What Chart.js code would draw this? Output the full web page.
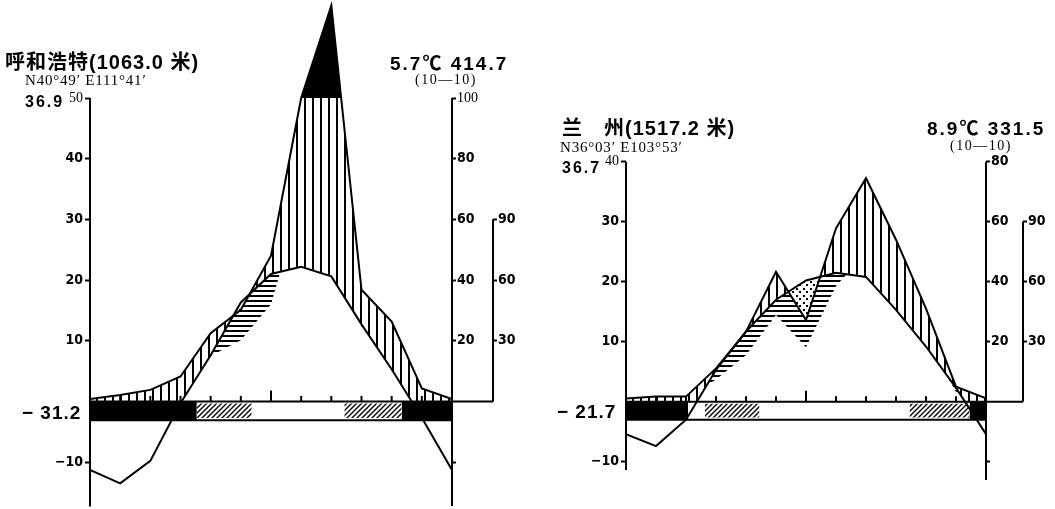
<!DOCTYPE html>
<html>
<head>
<meta charset="utf-8">
<script src="https://cdn.jsdelivr.net/npm/chart.js@4.4.1/dist/chart.umd.min.js"></script>
<style>
  body { margin: 0; background: #fff; width: 1055px; height: 509px; position: relative; overflow: hidden; }
  canvas { position: absolute; top: 0; }
  .t { position: absolute; white-space: nowrap; line-height: 1; color: #000; }
  .name { font: bold 20px 'Liberation Sans', 'Noto Sans CJK SC', sans-serif; letter-spacing: 1px; }
  .coord { font: 15px 'Liberation Serif', 'DejaVu Serif', serif; letter-spacing: 0.8px; }
  .big { font: bold 19px 'Liberation Sans', 'Noto Sans CJK SC', sans-serif; letter-spacing: 1px; }
  .ext { font: bold 16px 'Liberation Sans', sans-serif; letter-spacing: 2px; }
  .wide { letter-spacing: 2px; }
  .sub { font: 14px 'Liberation Serif', 'DejaVu Serif', serif; letter-spacing: 1.5px; }
</style>
</head>
<body>
<canvas id="hohhot" width="527" height="509" style="left:0"></canvas>
<canvas id="lanzhou" width="519" height="509" style="left:536px"></canvas>

<div class="t name" style="left:5px;top:46px">呼和浩特(1063.0 米)</div>
<div class="t coord" style="left:25px;top:72px">N40°49′ E111°41′</div>
<div class="t ext" style="left:25px;top:93px">36.9</div>
<div class="t big" style="left:22px;top:402px">− 31.2</div>
<div class="t big wide" style="left:390px;top:48px">5.7℃ 414.7</div>
<div class="t sub" style="left:415px;top:72px">(10—10)</div>

<div class="t name" style="left:562px;top:112px">兰　州(1517.2 米)</div>
<div class="t coord" style="left:560px;top:139px">N36°03′ E103°53′</div>
<div class="t ext" style="left:562px;top:159px">36.7</div>
<div class="t big" style="left:557px;top:401px">− 21.7</div>
<div class="t big wide" style="left:927px;top:113px">8.9℃ 331.5</div>
<div class="t sub" style="left:950px;top:138px">(10—10)</div>

<script>
// month positions: 0 = previous December, 1..12 = Jan..Dec
const monthPos = [0, 1, 2, 3, 4, 5, 6, 7, 8, 9, 10, 11, 12];

// Hohhot
const hohhotTemp = [-11.3, -13.5, -9.8, -0.3, 7.6, 16.3, 21.0, 22.2, 20.6, 12.7, 5.3, -2.7, -11.3];
const hohhotPrec = [0.8, 2.1, 3.8, 8.2, 22.5, 30.2, 48, 100, 130.5, 36.8, 26.3, 4.3, 0.8];
const hohhotFrostStart = [0, 3.54, 5.36, 8.43, 10.33];
const hohhotFrostEnd = [3.54, 5.36, 8.43, 10.33, 12];
const hohhotFrostKind = ['frost', 'maybe', 'free', 'maybe', 'frost'];
const hohhotTempTicks = [50, 40, 30, 20, 10, -10];
const hohhotPrecTicks = [100, 80, 60, 40, 20, -20];

// Lanzhou
const lanzhouTemp = [-5.4, -7.4, -3.0, 5.3, 11.7, 17.0, 20.2, 21.5, 20.8, 15.3, 9.2, 2.3, -5.4];
const lanzhouPrec = [1.1, 1.7, 1.7, 11.1, 23.3, 43.3, 27.2, 57.8, 74.5, 54, 31, 5, 1.1];
const lanzhouFrostStart = [0, 2.07, 2.63, 4.45, 9.45, 11.45];
const lanzhouFrostEnd = [2.07, 2.63, 4.45, 9.45, 11.45, 12];
const lanzhouFrostKind = ['frost', 'free', 'maybe', 'free', 'maybe', 'frost'];
const lanzhouTempTicks = [40, 30, 20, 10, -10];
const lanzhouPrecTicks = [80, 60, 40, 20, -20];

// outer scale (precip vs 3T)
const outerTicks = [90, 60, 30];
// month marks on the base line
const tickMonths = [1, 2, 3, 4, 5, 6, 7, 8, 9, 10, 11];
const midYearMonth = 6;

const CLEAR = 'rgba(0,0,0,0)';
const numFont = "'Liberation Sans Narrow', 'DejaVu Sans Condensed', 'Liberation Sans', sans-serif";
const smallFont = "'Liberation Serif', 'DejaVu Serif', serif";

function makePattern(w, h, draw) {
    const c = document.createElement('canvas');
    c.width = w;
    c.height = h;
    const g = c.getContext('2d');
    g.fillStyle = '#fff';
    g.fillRect(0, 0, w, h);
    g.fillStyle = '#000';
    g.strokeStyle = '#000';
    draw(g, w, h);
    return g.createPattern(c, 'repeat');
}

const vertPat = makePattern(8, 8, (g, w, h) => g.fillRect(0, 0, 2, h));
const horizPat = makePattern(6, 5, (g, w, h) => g.fillRect(0, 0, w, 2));
const dotPat = makePattern(7, 7, (g) => {
    g.fillRect(1, 1, 2, 2);
    g.fillRect(4, 4, 2, 2);
});
const diagPat = makePattern(5, 5, (g, w, h) => {
    g.lineWidth = 1.4;
    g.beginPath();
    g.moveTo(-1, h + 1); g.lineTo(w + 1, -1);
    g.moveTo(-1, 1); g.lineTo(1, -1);
    g.moveTo(w - 1, h + 1); g.lineTo(w + 1, h - 1);
    g.stroke();
});

const frostFill = { frost: '#000', maybe: diagPat, free: '#fff' };

// draws the axis lines with their own extents
const axisLines = {
    id: 'axisLines',
    afterDatasetsDraw(chart, args, opts) {
        const ctx = chart.ctx;
        const s = chart.scales;
        const line = (x1, y1, x2, y2) => {
            ctx.beginPath();
            ctx.moveTo(x1, y1);
            ctx.lineTo(x2, y2);
            ctx.stroke();
        };
        ctx.save();
        ctx.strokeStyle = '#000';
        ctx.lineWidth = 2;
        line(s.y.right, s.y.getPixelForValue(opts.tempTop), s.y.right, s.y.getPixelForValue(opts.tempBottom));
        line(s.yP.left, s.yP.getPixelForValue(opts.precTop), s.yP.left, s.yP.getPixelForValue(opts.precBottom));
        line(s.yQ.left, s.yQ.getPixelForValue(outerTicks[0]), s.yQ.left, s.yQ.getPixelForValue(0));
        const base = s.y.getPixelForValue(0);
        line(s.yP.left, base, s.yQ.left, base);
        ctx.restore();
    }
};

function buildChart(id, st) {
    const T = st.temp.map((v, i) => ({ x: monthPos[i], y: v }));
    const P = st.prec.map((v, i) => ({ x: monthPos[i], y: v }));
    // only the stretch of the curve that climbs over 100 mm
    const wet = P.filter((p, i) => p.y > 100 ||
        (i > 0 && P[i - 1].y > 100) || (i < P.length - 1 && P[i + 1].y > 100));
    const barTop = 0;

    const datasets = [
        // 0: temperature
        { data: T, yAxisID: 'y', borderColor: '#000', borderWidth: 2, fill: false, order: 0 },
        // 1: month marks
        {
            data: tickMonths.map(m => ({ x: m, y: m === midYearMonth ? 0.9 : 0.45 })),
            yAxisID: 'y', showLine: false, pointStyle: 'line', pointRotation: 90,
            pointRadius: c => (c.raw && c.raw.x === midYearMonth ? 5.5 : 2.8),
            pointBorderWidth: 2, pointBorderColor: '#000', order: 1
        },
        // 2-3: frame of the frost bar
        { data: [{ x: 0, y: barTop }, { x: 12, y: barTop }], yAxisID: 'y', borderColor: '#000', borderWidth: 2, fill: false, order: 2 },
        { data: [{ x: 0, y: st.barBottom }, { x: 12, y: st.barBottom }], yAxisID: 'y', borderColor: '#000', borderWidth: 2, fill: false, order: 2 },
    ];

    // frost bar segments
    st.frostStart.forEach((s0, i) => {
        const kind = st.frostKind[i];
        const inset = kind === 'maybe' ? 0.35 : 0;
        datasets.push({
            data: [{ x: s0, y: barTop - inset }, { x: st.frostEnd[i], y: barTop - inset }],
            yAxisID: 'y', borderWidth: 0, backgroundColor: frostFill[kind],
            fill: { value: st.barBottom + inset }, order: 4
        });
    });

    datasets.push(
        // white under the bar
        { data: [{ x: 0, y: barTop }, { x: 12, y: barTop }], yAxisID: 'y', borderWidth: 0, backgroundColor: '#fff', fill: { value: st.barBottom }, order: 7 },
        // nothing shaded below the bar
        { data: T, yAxisID: 'y', borderWidth: 0, fill: { value: st.barBottom, above: CLEAR, below: '#fff' }, order: 8 },
        // precipitation curve (20 mm = 10 C): humid above, arid below
        { data: P, yAxisID: 'yP', borderColor: '#000', borderWidth: 2, fill: { target: 0, above: vertPat, below: dotPat }, order: 10 },
        // precipitation on the 30 mm = 10 C scale: semi-arid
        { data: P, yAxisID: 'yQ', borderWidth: 0, fill: { target: 0, above: CLEAR, below: horizPat }, order: 11 }
    );
    if (wet.length) {
        // precipitation over 100 mm
        datasets.push({ data: wet, yAxisID: 'yP', borderWidth: 0, fill: { value: 100, above: '#000', below: CLEAR }, order: 9 });
    }

    const tickFont = (top, size) => (c) => (c.tick && c.tick.value === top
        ? { family: smallFont, size: size, weight: 'normal' }
        : { family: numFont, size: 14, weight: 'bold' });
    const label = v => (v < 0 ? '−' + Math.abs(v) : String(v));

    const yScale = (min, max, ticks, width, opts) => Object.assign({
        type: 'linear', min: min, max: max,
        border: { display: false },
        grid: { drawOnChartArea: false, drawTicks: true, tickLength: 5, tickWidth: 2, color: '#000' },
        ticks: { color: '#000', padding: 2 },
        afterBuildTicks: sc => { sc.ticks = ticks.map(v => ({ value: v })); },
        afterFit: sc => { sc.width = width; sc.paddingTop = 0; sc.paddingBottom = 0; }
    }, opts);

    new Chart(document.getElementById(id), {
        type: 'line',
        data: { datasets: datasets },
        options: {
            responsive: false,
            animation: false,
            devicePixelRatio: 1,
            events: [],
            layout: { padding: 0, autoPadding: false },
            elements: { point: { radius: 0 }, line: { tension: 0, borderJoinStyle: 'miter' } },
            plugins: {
                legend: { display: false },
                tooltip: { enabled: false },
                axisLines: {
                    tempTop: st.tempTicks[0], tempBottom: st.tempAxisBottom,
                    precTop: st.precTicks[0], precBottom: st.precAxisBottom
                }
            },
            scales: {
                x: { type: 'linear', min: 0, max: 12, display: false },
                y: yScale(st.tempMin, st.tempMax, st.tempTicks, st.leftW, {
                    position: 'left',
                    ticks: { color: '#000', padding: 2, font: tickFont(st.tempTicks[0], 14), callback: label }
                }),
                yP: yScale(st.tempMin * 2, st.tempMax * 2, st.precTicks, st.innerW, {
                    position: 'right', weight: 0,
                    grid: { drawOnChartArea: false, tickLength: 4, tickWidth: 2, color: '#000' },
                    ticks: { color: '#000', padding: 1, font: tickFont(st.precTop, 14), callback: v => (v < 0 ? '' : String(v)) }
                }),
                yQ: yScale(st.tempMin * 3, st.tempMax * 3, outerTicks, st.outerW, {
                    position: 'right', weight: 1,
                    grid: { drawOnChartArea: false, tickLength: 4, tickWidth: 2, color: '#000' },
                    ticks: { color: '#000', padding: 1, font: { family: numFont, size: 14, weight: 'bold' } }
                })
            }
        },
        plugins: [axisLines]
    });
}

buildChart('hohhot', {
    temp: hohhotTemp, prec: hohhotPrec,
    frostStart: hohhotFrostStart, frostEnd: hohhotFrostEnd, frostKind: hohhotFrostKind,
    tempTicks: hohhotTempTicks, precTicks: hohhotPrecTicks, precTop: 100,
    tempMin: -17.73, tempMax: 66.15, barBottom: -3.1,
    tempAxisBottom: -17.3, precAxisBottom: -34.5,
    leftW: 90, innerW: 41, outerW: 34
});

buildChart('lanzhou', {
    temp: lanzhouTemp, prec: lanzhouPrec,
    frostStart: lanzhouFrostStart, frostEnd: lanzhouFrostEnd, frostKind: lanzhouFrostKind,
    tempTicks: lanzhouTempTicks, precTicks: lanzhouPrecTicks, precTop: null,
    tempMin: -17.88, tempMax: 66.95, barBottom: -3.0,
    tempAxisBottom: -11.4, precAxisBottom: -26.1,
    leftW: 90, innerW: 37, outerW: 32
});
</script>
</body>
</html>
